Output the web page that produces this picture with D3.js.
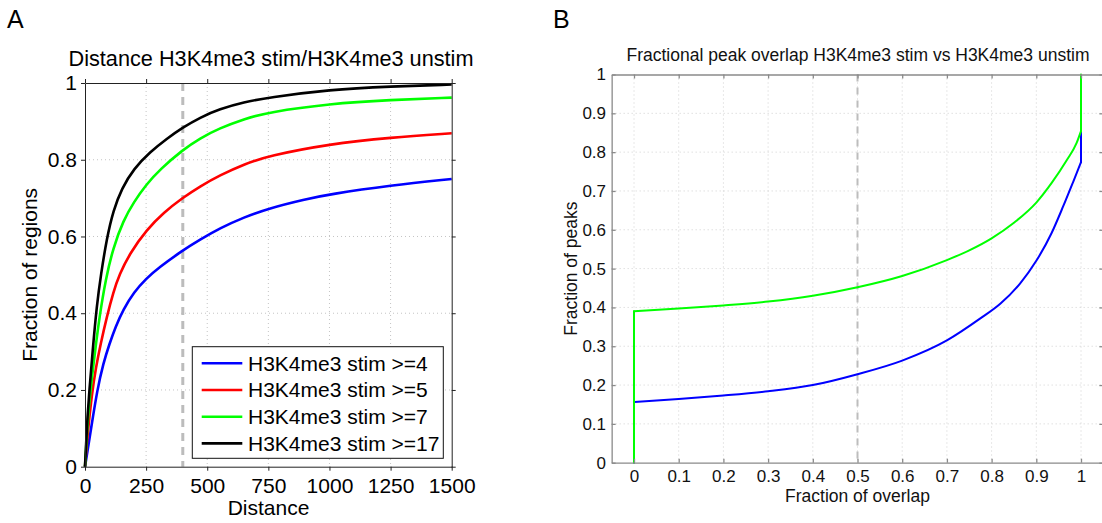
<!DOCTYPE html>
<html><head><meta charset="utf-8">
<script src="https://cdn.jsdelivr.net/npm/d3@7"></script>
<style>
body{margin:0;background:#fff}
text{font-family:"Liberation Sans",Arial,Helvetica,sans-serif}
</style>
</head><body>
<svg id="c" width="1102" height="523"></svg>
<script>
// ---------- Panel A data ----------
const titleA = "Distance H3K4me3 stim/H3K4me3 unstim";
const distTicks = [0, 250, 500, 750, 1000, 1250, 1500];
const fracTicksA = [0, 0.2, 0.4, 0.6, 0.8, 1];
const cutoffA = 400;
const legendA = ["H3K4me3 stim >=4", "H3K4me3 stim >=5", "H3K4me3 stim >=7", "H3K4me3 stim >=17"];
const colorsA = ["#0000ff", "#ff0000", "#00ff00", "#000000"];
const stim4 = [[0,0],[5,0.02],[10,0.04],[25,0.1],[50,0.2],[75,0.27],[100,0.32],[125,0.365],[157,0.41],[200,0.455],[250,0.49],[300,0.518],[400,0.564],[471,0.592],[553,0.622],[650,0.65],[750,0.673],[900,0.697],[1000,0.71],[1250,0.733],[1500,0.75]];
const stim5 = [[0,0],[5,0.04],[10,0.08],[28,0.19],[45,0.26],[64,0.32],[89,0.39],[116,0.455],[140,0.5],[184,0.557],[253,0.618],[321,0.662],[400,0.701],[471,0.731],[553,0.76],[650,0.788],[750,0.81],[1000,0.841],[1250,0.858],[1500,0.869]];
const stim7 = [[0,0],[5,0.055],[10,0.11],[22,0.2],[41,0.3],[59,0.39],[85,0.49],[115,0.57],[157,0.642],[200,0.69],[250,0.735],[307,0.775],[400,0.826],[470,0.856],[550,0.882],[650,0.906],[750,0.924],[1000,0.946],[1250,0.956],[1500,0.962]];
const stim17 = [[0,0],[5,0.065],[10,0.13],[18,0.2],[31,0.3],[48,0.42],[65,0.5],[89,0.595],[116,0.668],[150,0.725],[200,0.777],[266,0.82],[335,0.855],[400,0.884],[470,0.91],[550,0.932],[650,0.95],[750,0.962],[1000,0.983],[1250,0.991],[1500,0.996]];
const seriesA = [stim4, stim5, stim7, stim17];

// ---------- Panel B data ----------
const titleB = "Fractional peak overlap H3K4me3 stim vs H3K4me3 unstim";
const overlapTicks = [0, 0.1, 0.2, 0.3, 0.4, 0.5, 0.6, 0.7, 0.8, 0.9, 1];
const fracTicksB = [0, 0.1, 0.2, 0.3, 0.4, 0.5, 0.6, 0.7, 0.8, 0.9, 1];
const cutoffB = 0.5;
const colorsB = ["#0000ff", "#00ff00"];
const overlapBlue = [[0,0],[0,0.156],[0.1,0.164],[0.2,0.173],[0.3,0.184],[0.4,0.2],[0.5,0.228],[0.6,0.263],[0.7,0.315],[0.774,0.371],[0.82,0.41],[0.864,0.462],[0.9,0.52],[0.934,0.591],[0.96,0.66],[0.983,0.725],[1,0.774],[1,0.854]];
const overlapGreen = [[0,0],[0,0.39],[0.1,0.397],[0.2,0.405],[0.3,0.415],[0.4,0.43],[0.5,0.452],[0.6,0.481],[0.7,0.522],[0.75,0.547],[0.8,0.578],[0.85,0.618],[0.9,0.67],[0.934,0.72],[0.968,0.779],[0.99,0.823],[1,0.854],[1,1]];
const seriesB = [overlapBlue, overlapGreen];

const svg = d3.select("#c");

// ================= Panel A =================
(function(){
  const L = 85, R = 451.7, T = 83, B = 466.7, fs = 21;
  const x = d3.scaleLinear().domain([0,1500]).range([L,R]);
  const y = d3.scaleLinear().domain([0,1]).range([B,T]);
  const g = svg.append("g");

  g.append("text").attr("x",7).attr("y",28).attr("font-size",25).text("A");
  g.append("text").attr("x",271).attr("y",66).attr("text-anchor","middle").attr("font-size",21.7).text(titleA);

  g.selectAll(".gx").data(distTicks.slice(1,-1)).enter().append("line")
    .attr("x1",d=>x(d)).attr("x2",d=>x(d)).attr("y1",T).attr("y2",B)
    .attr("stroke","#c4c4c4").attr("stroke-dasharray","1,3");
  g.selectAll(".gy").data(fracTicksA.slice(1,-1)).enter().append("line")
    .attr("y1",d=>y(d)).attr("y2",d=>y(d)).attr("x1",L).attr("x2",R)
    .attr("stroke","#c4c4c4").attr("stroke-dasharray","1,3");

  g.append("line").attr("x1",x(cutoffA)).attr("x2",x(cutoffA)).attr("y1",T).attr("y2",B)
    .attr("stroke","#bcbcbc").attr("stroke-width",3).attr("stroke-dasharray","8,6");

  const line = d3.line().x(d=>x(d[0])).y(d=>y(d[1])).curve(d3.curveBasis);
  seriesA.forEach((s,i)=>{
    g.append("path").datum(s).attr("d",line).attr("fill","none")
      .attr("stroke",colorsA[i]).attr("stroke-width",2.6).attr("stroke-linejoin","round");
  });

  const fmt = d=>String(d);
  const ax = (gen, tr) => { const a = g.append("g").attr("transform",tr).call(gen);
    a.selectAll("path,line").attr("stroke","#222").attr("stroke-width",1);
    a.selectAll("text").attr("font-size",fs).attr("fill","#000").attr("font-family",null);
    return a; };
  ax(d3.axisBottom(x).tickValues(distTicks).tickFormat(fmt).tickSize(4).tickSizeOuter(0).tickPadding(7), `translate(0,${B})`);
  ax(d3.axisLeft(y).tickValues(fracTicksA).tickFormat(fmt).tickSize(4).tickSizeOuter(0).tickPadding(4), `translate(${L},0)`);
  ax(d3.axisTop(x).tickValues(distTicks).tickFormat("").tickSize(4).tickSizeOuter(0), `translate(0,${T})`);
  ax(d3.axisRight(y).tickValues(fracTicksA).tickFormat("").tickSize(4).tickSizeOuter(0), `translate(${R},0)`);

  g.append("text").attr("x",268.5).attr("y",515).attr("text-anchor","middle").attr("font-size",fs).text("Distance");
  g.append("text").attr("transform",`translate(36.5,${(T+B)/2}) rotate(-90)`).attr("text-anchor","middle").attr("font-size",fs).text("Fraction of regions");

  const lg = g.append("g");
  lg.append("rect").attr("x",192.3).attr("y",346.7).attr("width",251).attr("height",111.6)
    .attr("fill","#fff").attr("stroke","#111").attr("stroke-width",1);
  legendA.forEach((t,i)=>{
    const yy = 363.3 + i*26.7;
    lg.append("line").attr("x1",201.7).attr("x2",242.3).attr("y1",yy).attr("y2",yy)
      .attr("stroke",colorsA[i]).attr("stroke-width",2.6);
    lg.append("text").attr("x",248).attr("y",yy+7.4).attr("font-size",fs).text(t);
  });
})();

// ================= Panel B =================
(function(){
  const fs = 17.5, tfs = 17;
  const x = d3.scaleLinear().domain([-0.05,1.05]).range([611.65,1103.35]);
  const y = d3.scaleLinear().domain([0,1]).range([462.7,74.5]);
  const L = x(-0.05), R = x(1.05), T = y(1), B = y(0);
  const g = svg.append("g");

  g.append("text").attr("x",553).attr("y",28).attr("font-size",25).text("B");
  g.append("text").attr("x",858).attr("y",60.7).attr("text-anchor","middle").attr("font-size",fs).attr("fill","#111").text(titleB);

  g.selectAll(".gx").data(overlapTicks).enter().append("line")
    .attr("x1",d=>x(d)).attr("x2",d=>x(d)).attr("y1",T).attr("y2",B)
    .attr("stroke","#d0d0d0").attr("stroke-dasharray","1,3");
  g.selectAll(".gy").data(fracTicksB.slice(1,-1)).enter().append("line")
    .attr("y1",d=>y(d)).attr("y2",d=>y(d)).attr("x1",L).attr("x2",R)
    .attr("stroke","#d0d0d0").attr("stroke-dasharray","1,3");

  g.append("line").attr("x1",x(cutoffB)).attr("x2",x(cutoffB)).attr("y1",T).attr("y2",B)
    .attr("stroke","#bdbdbd").attr("stroke-width",2).attr("stroke-dasharray","7,6");

  const lin = d3.line().x(d=>x(d[0])).y(d=>y(d[1])).curve(d3.curveLinear);
  const smooth = d3.line().x(d=>x(d[0])).y(d=>y(d[1])).curve(d3.curveMonotoneX);
  seriesB.forEach((s,i)=>{
    const n = s.length;
    const parts = [[s.slice(0,2), lin], [s.slice(1,n-1), smooth], [s.slice(n-2), lin]];
    parts.forEach(([pts, gen])=>{
      g.append("path").datum(pts).attr("d",gen).attr("fill","none")
        .attr("stroke",colorsB[i]).attr("stroke-width",2)
        .attr("stroke-linejoin","round").attr("stroke-linecap","round");
    });
  });

  const fmt = d=>String(d);
  const ax = (gen, tr) => { const a = g.append("g").attr("transform",tr).call(gen);
    a.selectAll("path,line").attr("stroke","#8a8a8a").attr("stroke-width",1.3);
    a.selectAll("text").attr("font-size",tfs).attr("fill","#111").attr("font-family",null);
    return a; };
  ax(d3.axisBottom(x).tickValues(overlapTicks).tickFormat(fmt).tickSize(-4).tickSizeOuter(0).tickPadding(7), `translate(0,${B})`);
  ax(d3.axisLeft(y).tickValues(fracTicksB).tickFormat(fmt).tickSize(-4).tickSizeOuter(0).tickPadding(5.6), `translate(${L},0)`);
  ax(d3.axisTop(x).tickValues(overlapTicks).tickFormat("").tickSize(-4).tickSizeOuter(0), `translate(0,${T})`);
  ax(d3.axisRight(y).tickValues(fracTicksB).tickFormat("").tickSize(-4).tickSizeOuter(0), `translate(${R},0)`);

  g.append("text").attr("x",857.5).attr("y",501.8).attr("text-anchor","middle").attr("font-size",fs).attr("fill","#111").text("Fraction of overlap");
  g.append("text").attr("transform",`translate(577.3,${(T+B)/2}) rotate(-90)`).attr("text-anchor","middle").attr("font-size",fs).attr("fill","#111").text("Fraction of peaks");
})();
</script>
</body></html>
